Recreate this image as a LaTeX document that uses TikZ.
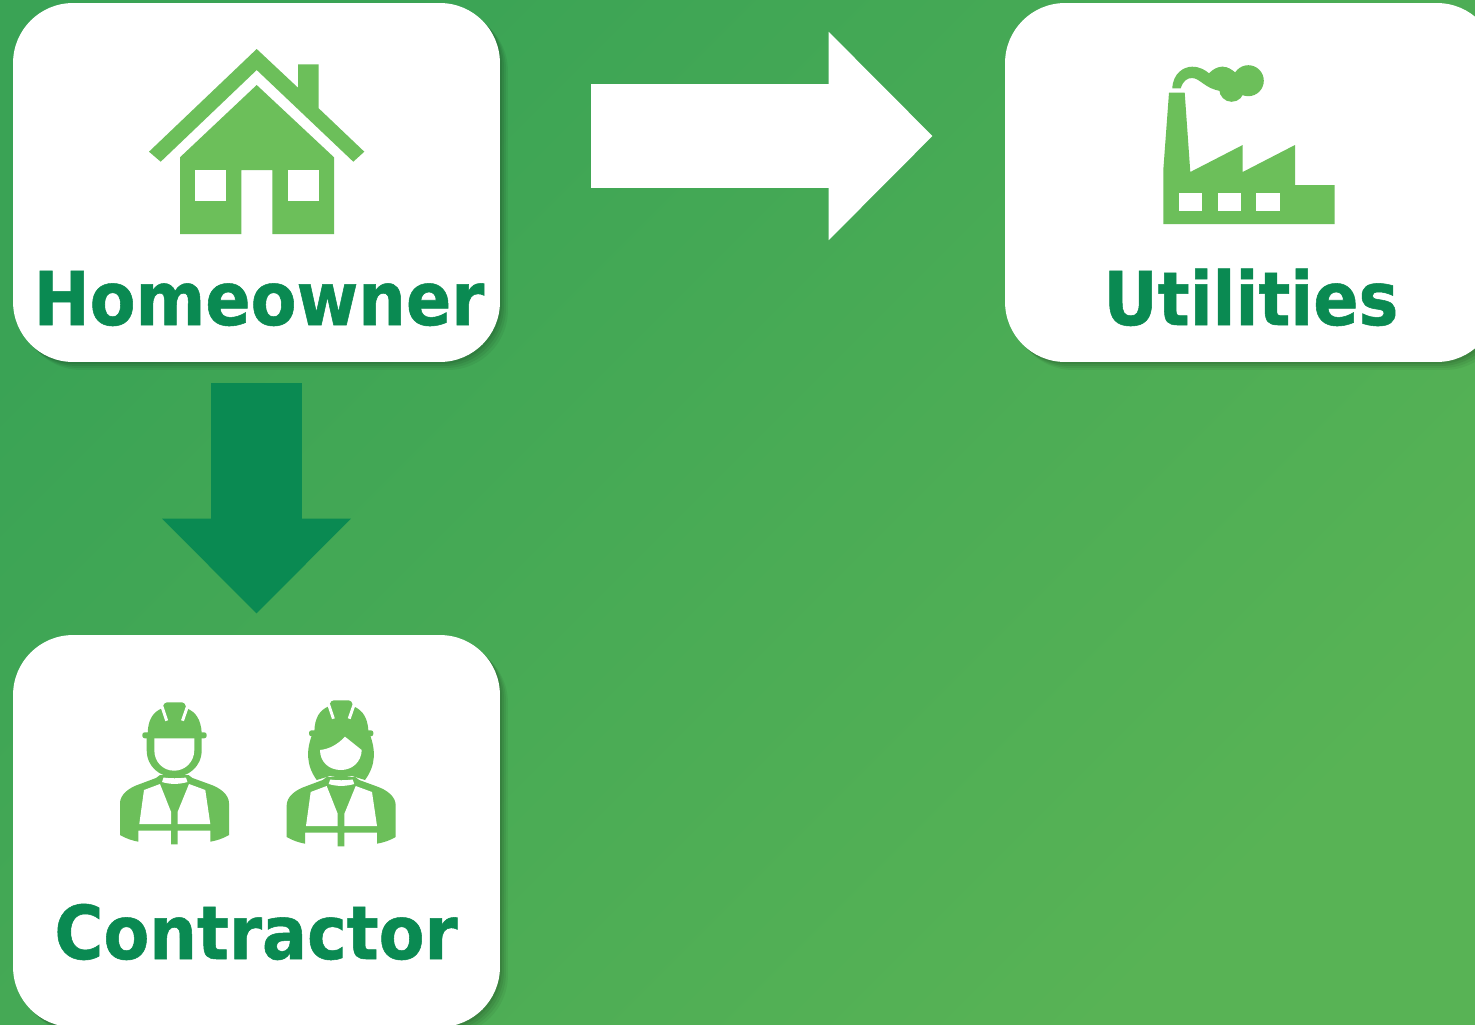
\documentclass[tikz,border=0pt]{standalone}
\usepackage{fontspec}
\setmainfont{DejaVu Sans Condensed}[BoldFeatures={FakeBold=0.7}]
\usepackage{tikz}
\usetikzlibrary{arrows.meta,shadows}

\definecolor{icongreen}{RGB}{108,191,90}
\definecolor{darkgreen}{RGB}{10,138,82}
\definecolor{bgstart}{RGB}{58,163,85}
\definecolor{bgend}{RGB}{88,179,85}

\tikzset{
  card/.style={fill=white,rounded corners=1.2cm,minimum width=9.74cm,minimum height=7.18cm,inner sep=0pt,
    drop shadow={shadow xshift=0.16cm,shadow yshift=-0.16cm,opacity=.05,fill=black},
    drop shadow={shadow xshift=0.12cm,shadow yshift=-0.12cm,opacity=.06,fill=black},
    drop shadow={shadow xshift=0.08cm,shadow yshift=-0.08cm,opacity=.07,fill=black},
    drop shadow={shadow xshift=0.04cm,shadow yshift=-0.04cm,opacity=.08,fill=black}},
  cardlabel/.style={anchor=base,text=darkgreen,font=\fontsize{42.3}{50}\selectfont\bfseries,inner sep=0pt},
  icon/.style={fill=icongreen},
  cutout/.style={fill=white},
  stripe/.style={draw=white,line width=0.06cm}
}

\newcommand{\workerbody}{
  \fill[icon] (160,775) -- (156,778) -- (140,784) .. controls (128,788) and (120,795) .. (120,803.3) -- (120,835)
    .. controls (126,838.5) and (132,840.5) .. (138.3,841.7) -- (138.3,830.7) -- (171,830.7) -- (171,844.3) -- (177.7,844.3)
    -- (177.7,830.7) -- (210.3,830.7) -- (210.3,841.7) .. controls (217,840.5) and (223,838.5) .. (229,835) -- (229,803.3)
    .. controls (229,795) and (221,788) .. (209,784) -- (192.5,778) -- (188.5,775) -- cycle;
  \fill[cutout] (139.3,824) -- (144,790) -- (160,784) -- (171,811.7) -- (171,824) -- cycle;
  \fill[cutout] (177.7,824) -- (177.7,811.7) -- (189,784) -- (205.3,790) -- (210.3,824) -- cycle;
  \fill[cutout] (163.5,777.5) .. controls (170,778.5) and (179,778.5) .. (186,777.5) -- (187.5,782) .. controls (179,784.5) and (170,784.5) .. (162,782) -- cycle;
}
\newcommand{\workerhelmet}{
  \fill[icon] (147.7,733) .. controls (148,720) and (153,712) .. (161.7,708.5) -- (164.5,703.5) -- (167,702.3) -- (182,702.3)
    -- (184.5,703.5) -- (187,708.5) .. controls (196,712) and (201,720) .. (201.7,733) -- cycle;
  \draw[stripe] (161.8,706) -- (166.7,720.7);
  \draw[stripe] (187.6,706) -- (182.5,720.7);
  \fill[icon,rounded corners=0.05cm] (142.3,732.3) rectangle (206.7,738.3);
}

\begin{document}
\begin{tikzpicture}[x=0.02cm,y=-0.02cm]
\useasboundingbox (0,0) rectangle (1475,1025);
\clip (0,0) rectangle (1475,1025);

\shade[top color=bgstart,bottom color=bgend,shading angle=45] (0,0) rectangle (1475,1025);

\node[card] (homeowner) at (256.5,182.5) {};
\node[card,minimum width=9.84cm] (utilities) at (1251,182.5) {};
\node[card,minimum height=7.84cm] (contractor) at (256.5,831) {};

\node[cardlabel] (homeownerlabel) at (259,325) {Homeowner};
\node[cardlabel] (utilitieslabel) at (1251,325) {Utilities};
\node[cardlabel] (contractorlabel) at (256,959) {Contractor};

\draw[-{Triangle[length=2.08cm,width=4.04cm]},line width=2.08cm,white,shorten <=1.82cm,shorten >=1.44cm]
  ([yshift=0.93cm]homeowner.east) -- ([yshift=0.93cm]utilities.west);
\draw[-{Triangle[length=1.9cm,width=3.66cm]},line width=1.84cm,darkgreen,shorten <=0.42cm,shorten >=0.42cm]
  (homeowner.south) -- (contractor.north);

% house
\fill[icon] (256.7,49) -- (298,87.7) -- (298,64.3) -- (318.7,64.3) -- (318.7,108.3) -- (364.3,151.7) -- (353.3,161.7)
  -- (256.7,70) -- (160.7,161.7) -- (149,151.7) -- cycle;
\fill[icon] (256.7,85) -- (334,157.3) -- (334,234) -- (272.3,234) -- (272.3,170) -- (241.3,170) -- (241.3,234) -- (180,234)
  -- (180,157.3) -- cycle;
\fill[cutout] (195.3,170) rectangle (226,200.7);
\fill[cutout] (287.7,170) rectangle (318.7,200.7);

% factory
\fill[icon] (1163.3,224) -- (1163.3,170) -- (1169,92.7) -- (1184.7,92.7) -- (1190.3,172) -- (1242.7,145) -- (1242.7,172)
  -- (1295,145) -- (1295,185) -- (1334.7,185) -- (1334.7,224) -- cycle;
\fill[cutout] (1178.7,193.3) rectangle (1202,211);
\fill[cutout] (1217.7,193.3) rectangle (1241,211);
\fill[cutout] (1256.3,193.3) rectangle (1279.7,211);
\fill[icon] (1172.3,88.3) .. controls (1173,73) and (1184,66.7) .. (1192,66.7) .. controls (1200,66.7) and (1205,70) .. (1209,73.3)
  .. controls (1213,69) and (1218,66.7) .. (1222,66.7) .. controls (1228,66.7) and (1232,70) .. (1235,72.7)
  -- (1240,85) -- (1221,91) .. controls (1205,89) and (1200,78) .. (1192,78) .. controls (1187,78) and (1183,81) .. (1180.7,88.3) -- cycle;
\fill[icon] (1248.3,80.7) circle (15.5*0.02cm);
\fill[icon] (1231.7,89.3) circle (12.5*0.02cm);
\fill[icon] (1222,66.7) .. controls (1228,66.7) and (1232,70) .. (1236,73) -- (1238,90) -- (1218,90) -- cycle;

% man
\workerbody
\workerhelmet
\fill[icon] (146.7,737) -- (146.7,750) .. controls (146.7,767) and (160,777) .. (174.2,777) .. controls (188,777) and (201.7,767) .. (201.7,750) -- (201.7,737) -- cycle;
\fill[cutout] (154.3,738.3) -- (154.3,750) .. controls (154.3,762) and (163,770.7) .. (174.2,770.7) .. controls (185,770.7) and (194.3,762) .. (194.3,750) -- (194.3,738.3) -- cycle;

% woman
\begin{scope}[shift={(166.7,2)}]
\workerbody
\end{scope}
\begin{scope}[shift={(166.7,-2)}]
\workerhelmet
\end{scope}
\fill[icon] (312.7,733) .. controls (306,750) and (306,765) .. (316.7,780) -- (330,776) .. controls (336,777.5) and (346,777.5) .. (352,776) -- (365,780)
  .. controls (376,765) and (376,750) .. (369.3,733) -- cycle;
\fill[cutout] (320,750) .. controls (330,749) and (338,744) .. (345,736.7) -- (361.7,750) .. controls (361.5,762) and (352,770) .. (341,770) .. controls (329,770) and (320,762) .. (320,750) -- cycle;
\end{tikzpicture}
\end{document}
